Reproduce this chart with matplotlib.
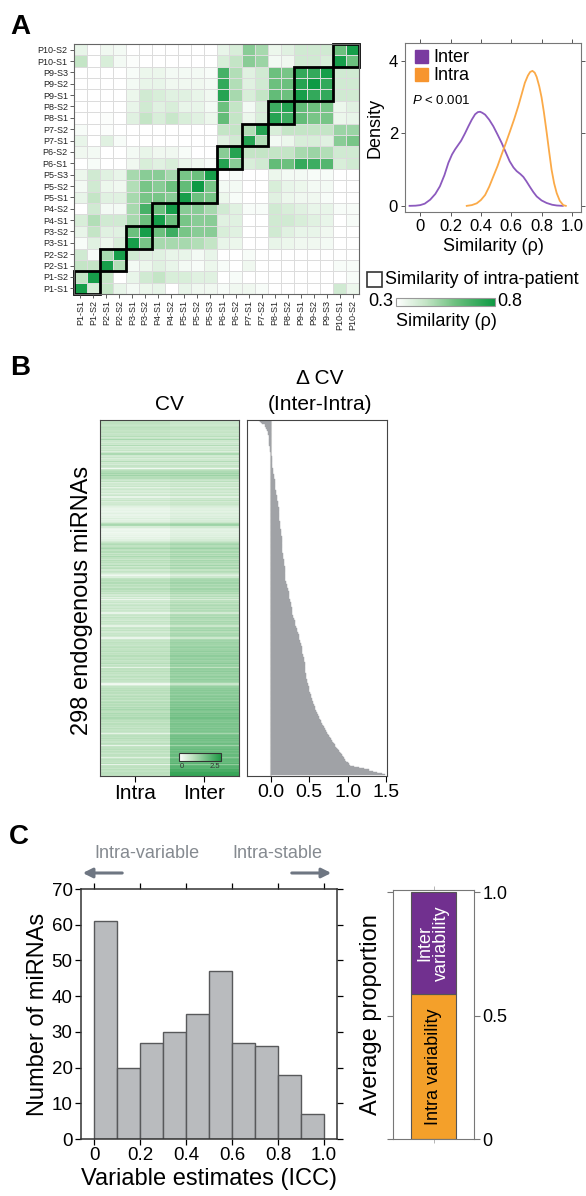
import numpy as np
import matplotlib
matplotlib.use('Agg')
import matplotlib.pyplot as plt
from matplotlib.colors import LinearSegmentedColormap, Normalize
from matplotlib.colorbar import ColorbarBase
from matplotlib.patches import Rectangle

plt.rcParams['font.family'] = ['Liberation Sans', 'DejaVu Sans']
plt.rcParams['mathtext.fontset'] = 'custom'
plt.rcParams['mathtext.it'] = 'Liberation Sans:italic'
plt.rcParams['mathtext.rm'] = 'Liberation Sans'

W, H = 586, 1196

# ---- panel A data ----
samples = ['P1-S1', 'P1-S2', 'P2-S1', 'P2-S2', 'P3-S1', 'P3-S2', 'P4-S1', 'P4-S2',
           'P5-S1', 'P5-S2', 'P5-S3', 'P6-S1', 'P6-S2', 'P7-S1', 'P7-S2', 'P8-S1',
           'P8-S2', 'P9-S1', 'P9-S2', 'P9-S3', 'P10-S1', 'P10-S2']
patient_sizes = [2, 2, 2, 2, 3, 2, 2, 2, 3, 2]

# similarity, rows as read from top (P10-S2) to bottom (P1-S1)
sim_rows = [
    [0.36, 0.30, 0.34, 0.33, 0.30, 0.30, 0.30, 0.30, 0.30, 0.30, 0.30, 0.36, 0.40, 0.55, 0.50, 0.35, 0.38, 0.42, 0.42, 0.42, 0.60, 0.78],
    [0.45, 0.30, 0.40, 0.33, 0.31, 0.30, 0.30, 0.30, 0.30, 0.30, 0.30, 0.40, 0.45, 0.55, 0.52, 0.33, 0.34, 0.42, 0.42, 0.40, 0.78, 0.60],
    [0.30, 0.30, 0.30, 0.30, 0.32, 0.35, 0.35, 0.33, 0.33, 0.33, 0.32, 0.68, 0.48, 0.38, 0.42, 0.60, 0.58, 0.72, 0.72, 0.78, 0.42, 0.42],
    [0.30, 0.30, 0.30, 0.30, 0.33, 0.36, 0.36, 0.34, 0.34, 0.34, 0.33, 0.72, 0.48, 0.38, 0.42, 0.60, 0.60, 0.75, 0.80, 0.72, 0.42, 0.42],
    [0.30, 0.30, 0.30, 0.30, 0.35, 0.42, 0.40, 0.38, 0.38, 0.36, 0.34, 0.75, 0.50, 0.40, 0.45, 0.62, 0.60, 0.78, 0.72, 0.72, 0.42, 0.42],
    [0.30, 0.30, 0.30, 0.30, 0.36, 0.42, 0.38, 0.40, 0.36, 0.36, 0.33, 0.60, 0.45, 0.33, 0.40, 0.70, 0.75, 0.62, 0.60, 0.58, 0.35, 0.38],
    [0.30, 0.30, 0.31, 0.30, 0.38, 0.45, 0.40, 0.44, 0.40, 0.38, 0.35, 0.62, 0.45, 0.35, 0.40, 0.75, 0.70, 0.62, 0.58, 0.58, 0.35, 0.36],
    [0.32, 0.30, 0.31, 0.30, 0.30, 0.30, 0.30, 0.30, 0.30, 0.30, 0.30, 0.45, 0.45, 0.48, 0.75, 0.40, 0.45, 0.45, 0.45, 0.45, 0.52, 0.52],
    [0.36, 0.30, 0.38, 0.32, 0.30, 0.30, 0.30, 0.30, 0.30, 0.30, 0.30, 0.38, 0.42, 0.75, 0.48, 0.33, 0.35, 0.40, 0.40, 0.38, 0.55, 0.58],
    [0.34, 0.33, 0.30, 0.30, 0.33, 0.36, 0.34, 0.34, 0.32, 0.30, 0.30, 0.55, 0.75, 0.45, 0.45, 0.45, 0.45, 0.50, 0.52, 0.48, 0.42, 0.42],
    [0.30, 0.32, 0.30, 0.30, 0.34, 0.40, 0.38, 0.40, 0.36, 0.34, 0.32, 0.75, 0.55, 0.40, 0.42, 0.62, 0.60, 0.72, 0.70, 0.65, 0.40, 0.42],
    [0.35, 0.42, 0.38, 0.36, 0.50, 0.55, 0.55, 0.50, 0.58, 0.60, 0.78, 0.30, 0.32, 0.30, 0.30, 0.35, 0.33, 0.33, 0.32, 0.32, 0.30, 0.30],
    [0.33, 0.42, 0.35, 0.34, 0.48, 0.58, 0.55, 0.60, 0.62, 0.80, 0.58, 0.33, 0.33, 0.30, 0.30, 0.40, 0.36, 0.35, 0.33, 0.33, 0.30, 0.30],
    [0.36, 0.45, 0.38, 0.38, 0.50, 0.58, 0.58, 0.55, 0.78, 0.60, 0.58, 0.35, 0.32, 0.30, 0.30, 0.38, 0.35, 0.34, 0.34, 0.32, 0.30, 0.30],
    [0.30, 0.42, 0.33, 0.33, 0.50, 0.68, 0.60, 0.78, 0.55, 0.55, 0.50, 0.42, 0.38, 0.32, 0.32, 0.42, 0.40, 0.38, 0.36, 0.36, 0.32, 0.32],
    [0.40, 0.48, 0.42, 0.42, 0.50, 0.60, 0.78, 0.60, 0.58, 0.55, 0.55, 0.38, 0.38, 0.30, 0.30, 0.42, 0.42, 0.40, 0.38, 0.36, 0.30, 0.32],
    [0.36, 0.45, 0.38, 0.38, 0.60, 0.78, 0.60, 0.70, 0.58, 0.55, 0.55, 0.40, 0.38, 0.30, 0.30, 0.42, 0.38, 0.36, 0.36, 0.34, 0.30, 0.30],
    [0.32, 0.38, 0.35, 0.40, 0.78, 0.58, 0.50, 0.50, 0.50, 0.48, 0.45, 0.36, 0.35, 0.30, 0.30, 0.36, 0.35, 0.34, 0.34, 0.33, 0.30, 0.30],
    [0.42, 0.32, 0.50, 0.78, 0.42, 0.38, 0.38, 0.36, 0.36, 0.33, 0.36, 0.30, 0.30, 0.32, 0.30, 0.30, 0.30, 0.30, 0.30, 0.30, 0.30, 0.30],
    [0.45, 0.45, 0.78, 0.48, 0.33, 0.35, 0.38, 0.36, 0.33, 0.32, 0.35, 0.32, 0.30, 0.34, 0.30, 0.30, 0.30, 0.30, 0.30, 0.30, 0.32, 0.32],
    [0.45, 0.78, 0.45, 0.30, 0.36, 0.42, 0.45, 0.40, 0.40, 0.38, 0.38, 0.30, 0.32, 0.30, 0.30, 0.30, 0.30, 0.30, 0.30, 0.30, 0.30, 0.32],
    [0.78, 0.40, 0.45, 0.36, 0.33, 0.35, 0.36, 0.30, 0.36, 0.34, 0.34, 0.32, 0.34, 0.34, 0.32, 0.30, 0.30, 0.30, 0.30, 0.30, 0.42, 0.35],
]

dens_inter_x = [-0.07, -0.03, 0.0, 0.03, 0.066, 0.1, 0.13, 0.16, 0.186, 0.21, 0.23, 0.25,
                0.27, 0.295, 0.318, 0.34, 0.362, 0.38, 0.395, 0.41, 0.428, 0.455, 0.482,
                0.51, 0.537, 0.565, 0.59, 0.615, 0.636, 0.66, 0.68, 0.70, 0.724, 0.746,
                0.768, 0.8, 0.833, 0.87, 0.9, 0.94]
dens_inter_y = [0.0, 0.005, 0.02, 0.06, 0.17, 0.33, 0.54, 0.85, 1.19, 1.42, 1.56, 1.68,
                1.8, 2.0, 2.2, 2.38, 2.53, 2.59, 2.6, 2.57, 2.52, 2.38, 2.2,
                1.97, 1.74, 1.47, 1.23, 1.06, 0.96, 0.88, 0.8, 0.68, 0.52, 0.38,
                0.26, 0.15, 0.08, 0.03, 0.01, 0.0]
dens_intra_x = [0.307, 0.34, 0.373, 0.40, 0.428, 0.455, 0.482, 0.51, 0.537, 0.565, 0.592,
                0.62, 0.647, 0.67, 0.69, 0.71, 0.725, 0.74, 0.755, 0.768, 0.785, 0.8,
                0.815, 0.833, 0.85, 0.866, 0.883, 0.9, 0.92, 0.943, 0.96]
dens_intra_y = [0.0, 0.02, 0.07, 0.16, 0.3, 0.53, 0.81, 1.1, 1.42, 1.74, 2.06,
                2.4, 2.76, 3.1, 3.4, 3.6, 3.7, 3.73, 3.68, 3.56, 3.3, 3.0,
                2.6, 2.05, 1.5, 1.0, 0.62, 0.35, 0.14, 0.02, 0.0]

# ---- panel B data (298 miRNAs, sorted by delta CV) ----
delta_cv = [
    -0.15, -0.14, -0.13, -0.11, -0.08, -0.07, -0.06, -0.06, -0.05, -0.05,
    -0.04, -0.04, -0.04, -0.03, -0.03, -0.03, -0.03, -0.02, -0.02, -0.02,
    -0.02, -0.02, -0.01, -0.01, -0.01, -0.01, -0.01, 0.00, 0.00, 0.00,
    0.00, 0.01, 0.01, 0.01, 0.01, 0.01, 0.02, 0.02, 0.02, 0.02,
    0.02, 0.03, 0.03, 0.03, 0.03, 0.03, 0.04, 0.04, 0.04, 0.04,
    0.05, 0.05, 0.05, 0.05, 0.06, 0.06, 0.06, 0.06, 0.06, 0.07,
    0.07, 0.07, 0.07, 0.08, 0.08, 0.08, 0.08, 0.08, 0.09, 0.09,
    0.09, 0.09, 0.09, 0.10, 0.10, 0.10, 0.10, 0.10, 0.10, 0.11,
    0.11, 0.11, 0.11, 0.11, 0.11, 0.12, 0.12, 0.12, 0.12, 0.12,
    0.12, 0.12, 0.13, 0.13, 0.13, 0.13, 0.13, 0.13, 0.14, 0.14,
    0.14, 0.14, 0.14, 0.14, 0.14, 0.14, 0.15, 0.15, 0.15, 0.15,
    0.15, 0.15, 0.16, 0.16, 0.16, 0.16, 0.16, 0.17, 0.17, 0.17,
    0.17, 0.17, 0.17, 0.18, 0.18, 0.18, 0.18, 0.18, 0.19, 0.19,
    0.19, 0.19, 0.19, 0.19, 0.19, 0.20, 0.20, 0.20, 0.21, 0.21,
    0.21, 0.22, 0.22, 0.22, 0.23, 0.23, 0.23, 0.24, 0.24, 0.24,
    0.25, 0.25, 0.25, 0.26, 0.26, 0.26, 0.26, 0.27, 0.27, 0.27,
    0.27, 0.27, 0.28, 0.28, 0.29, 0.29, 0.30, 0.30, 0.31, 0.31,
    0.32, 0.32, 0.32, 0.33, 0.33, 0.34, 0.34, 0.34, 0.35, 0.35,
    0.36, 0.36, 0.36, 0.37, 0.37, 0.38, 0.38, 0.39, 0.39, 0.39,
    0.40, 0.40, 0.40, 0.41, 0.41, 0.41, 0.42, 0.42, 0.42, 0.43,
    0.43, 0.43, 0.43, 0.44, 0.44, 0.44, 0.44, 0.45, 0.45, 0.45,
    0.45, 0.45, 0.46, 0.46, 0.46, 0.46, 0.46, 0.47, 0.47, 0.47,
    0.47, 0.48, 0.48, 0.49, 0.49, 0.50, 0.50, 0.50, 0.51, 0.51,
    0.52, 0.52, 0.52, 0.53, 0.53, 0.54, 0.55, 0.55, 0.56, 0.56,
    0.57, 0.57, 0.58, 0.59, 0.59, 0.60, 0.60, 0.61, 0.62, 0.62,
    0.63, 0.64, 0.65, 0.65, 0.66, 0.67, 0.68, 0.69, 0.70, 0.71,
    0.72, 0.72, 0.73, 0.74, 0.75, 0.76, 0.77, 0.78, 0.79, 0.80,
    0.81, 0.82, 0.83, 0.84, 0.85, 0.86, 0.87, 0.88, 0.90, 0.91,
    0.92, 0.93, 0.94, 0.95, 0.96, 0.97, 0.98, 1.00, 1.01, 1.03,
    1.08, 1.15, 1.21, 1.27, 1.33, 1.38, 1.44, 1.49,
]

intra_cv = [
    0.80, 0.78, 0.82, 0.75, 0.70, 0.78, 0.85, 0.80, 0.72, 0.76,
    0.80, 0.68, 0.74, 0.90, 0.60, 0.72, 1.05, 0.65, 0.55, 0.70,
    0.62, 0.95, 0.50, 0.66, 0.58, 0.72, 0.45, 0.68, 1.00, 0.60,
    0.55, 0.70, 0.48, 0.62, 0.92, 0.58, 0.66, 0.52, 0.74, 0.60,
    0.20, 0.70, 0.85, 0.95, 1.10, 0.90, 1.15, 0.88, 0.92, 0.70,
    0.60, 0.80, 0.45, 0.62, 0.55, 0.70, 0.35, 0.58, 0.66, 0.50,
    0.62, 0.40, 0.55, 0.68, 0.30, 0.60, 0.52, 0.72, 0.45, 0.58,
    0.62, 0.50, 0.40, 0.35, 0.28, 0.32, 0.25, 0.30, 0.38, 0.28,
    0.35, 0.30, 0.45, 0.32, 0.40, 0.55, 0.85, 1.05, 1.00, 0.50,
    0.30, 0.22, 0.25, 0.28, 0.20, 0.26, 0.30, 0.24, 0.35, 0.28,
    0.40, 0.55, 0.70, 0.85, 0.95, 0.78, 0.90, 1.05, 0.82, 0.75,
    0.92, 0.68, 0.88, 0.72, 1.00, 0.80, 0.65, 0.90, 0.76, 0.85,
    0.70, 0.95, 0.62, 0.80, 0.88, 0.58, 0.75, 0.66, 0.50, 0.35,
    0.20, 0.45, 0.78, 0.85, 0.90, 0.80, 0.95, 0.75, 0.88, 0.82,
    0.70, 0.92, 0.78, 0.85, 0.65, 0.80, 0.55, 0.70, 0.40, 0.62,
    0.25, 0.58, 0.70, 0.50, 0.66, 0.75, 0.60, 0.72, 0.55, 0.68,
    0.62, 0.30, 0.65, 0.72, 0.58, 0.80, 0.66, 0.55, 0.75, 0.62,
    0.70, 0.60, 0.35, 0.68, 0.74, 0.62, 0.78, 0.55, 0.70, 0.66,
    0.72, 0.58, 0.28, 0.65, 0.76, 0.70, 0.82, 0.75, 0.68, 0.80,
    0.85, 0.72, 0.78, 0.88, 0.70, 0.82, 0.76, 0.90, 0.74, 0.80,
    0.86, 0.70, 0.78, 0.92, 0.65, 0.80, 0.74, 0.35, 0.82, 0.76,
    0.88, 0.72, 0.80, 0.70, 0.85, 0.78, 0.66, 0.82, 0.74, 0.60,
    0.22, 0.18, 0.50, 0.75, 0.85, 0.80, 0.90, 0.78, 0.86, 0.72,
    0.82, 0.92, 0.76, 0.88, 0.70, 0.85, 0.95, 0.80, 0.90, 0.78,
    0.98, 0.85, 1.05, 0.90, 0.82, 1.00, 0.88, 0.95, 0.85, 1.02,
    0.90, 0.80, 0.85, 0.72, 0.88, 0.78, 0.82, 0.70, 0.86, 0.75,
    0.80, 0.68, 0.35, 0.72, 0.85, 0.78, 0.90, 0.75, 0.82, 0.70,
    0.86, 0.78, 0.30, 0.74, 0.80, 0.88, 0.72, 0.84, 0.78, 0.66,
    0.82, 0.76, 0.40, 0.70, 0.84, 0.78, 0.72, 0.88, 0.30, 0.76,
    0.82, 0.70, 0.86, 0.78, 0.74, 0.84, 0.80, 0.76,
]

# ---- panel C data ----
icc_edges = [0.0, 0.1, 0.2, 0.3, 0.4, 0.5, 0.6, 0.7, 0.8, 0.9, 1.0]
icc_counts = [61, 20, 27, 30, 35, 47, 27, 26, 18, 7]
prop_intra = 0.59
prop_inter = 0.41

purple = '#71308f'
orange = '#f4a02a'

fig = plt.figure(figsize=(W / 100, H / 100), dpi=100)


def add_ax(l, t, r, b):
    return fig.add_axes([l / W, 1 - b / H, (r - l) / W, (b - t) / H])


def fade_far_ticks(ax, color='#d0d0d0'):
    # ticks on top / right are drawn only faintly in the original
    for t in ax.xaxis.get_major_ticks():
        t.tick2line.set_color(color)
    for t in ax.yaxis.get_major_ticks():
        t.tick2line.set_color(color)


# ===== A: similarity heatmap =====
green_a = LinearSegmentedColormap.from_list(
    'ga', [(0, '#ffffff'), (0.3, '#c4e5c6'), (0.6, '#6cc07e'), (1, '#0e9a44')])
sim = np.array(sim_rows)[::-1]
n = len(samples)
ax = add_ax(74, 44, 359, 294)
ax.pcolormesh(np.arange(n + 1), np.arange(n + 1), sim, cmap=green_a, vmin=0.3, vmax=0.8,
              edgecolors='#dcdcdc', linewidth=0.5)
ax.set_xlim(0, n)
ax.set_ylim(0, n)
ax.set_xticks(np.arange(n) + 0.5)
ax.set_xticklabels(samples, rotation=90, fontsize=6.5, color='#222222')
ax.set_yticks(np.arange(n) + 0.5)
ax.set_yticklabels(samples, fontsize=6.5, color='#222222')
ax.tick_params(length=3, width=0.6, color='#444444', pad=1.5)
for s in ax.spines.values():
    s.set_color('#666666')
start = 0
for size in patient_sizes:
    ax.add_patch(Rectangle((start, start), size, size, fill=False, lw=2, ec='black', clip_on=False))
    start += size

# density
ax = add_ax(405, 43, 581, 212)
ax.plot(dens_inter_x, dens_inter_y, color='#8c5abe', lw=1.3)
ax.plot(dens_intra_x, dens_intra_y, color='#fbaa48', lw=1.3)
ax.set_xlim(-0.1, 1.06)
ax.set_ylim(-0.17, 4.5)
ax.set_xticks([0, 0.2, 0.4, 0.6, 0.8, 1.0])
ax.set_xticklabels(['0', '0.2', '0.4', '0.6', '0.8', '1.0'])
ax.set_yticks([0, 2, 4])
ax.tick_params(labelsize=12, length=3, width=0.7, color='#555555', pad=2)
ax.tick_params(top=True, right=True, labeltop=False, labelright=False)
fade_far_ticks(ax)
ax.set_xlabel('Similarity (ρ)', fontsize=13, labelpad=3)
ax.set_ylabel('Density', fontsize=13, labelpad=4)
for s in ax.spines.values():
    s.set_color('#777777')

# colorbar A
cax = add_ax(396, 298, 495, 306)
cb = ColorbarBase(cax, cmap=green_a, norm=Normalize(0.3, 0.8), orientation='horizontal')
cb.set_ticks([])
cb.outline.set_edgecolor('#999999')

# ===== B =====
green_b = LinearSegmentedColormap.from_list(
    'gb', [(0, '#ffffff'), (0.33, '#bde1bf'), (1, '#1f9a45')])
intra = np.array(intra_cv)
delta = np.array(delta_cv)
inter = intra + delta
cv = np.column_stack([intra, inter])
m = len(delta)
ax = add_ax(100, 420, 239, 776)
ax.pcolormesh(np.arange(3), np.arange(m + 1), cv, cmap=green_b, vmin=0, vmax=2.5)
ax.set_xlim(0, 2)
ax.set_ylim(m, 0)
ax.set_yticks([])
ax.set_xticks([0.5, 1.5])
ax.set_xticklabels(['Intra', 'Inter'], fontsize=15)
ax.tick_params(length=4, width=0.8, pad=2)
for s in ax.spines.values():
    s.set_color('#444444')

cax = add_ax(179, 753, 221, 761)
cb = ColorbarBase(cax, cmap=green_b, norm=Normalize(0, 2.5), orientation='horizontal')
cb.set_ticks([])
cb.outline.set_edgecolor('#333333')

ax = add_ax(247, 420, 387, 776)
ax.axvline(0, color='#d4d4d4', lw=1.5, zorder=0)
ax.barh(np.arange(m), delta, height=1.0, color='#a0a2a6', edgecolor='#a0a2a6', linewidth=0.3)
ax.set_ylim(m, 0)
ax.set_xlim(-0.31, 1.51)
ax.set_yticks([])
ax.set_xticks([0, 0.5, 1.0, 1.5])
ax.set_xticklabels(['0.0', '0.5', '1.0', '1.5'], fontsize=14)
ax.tick_params(length=4, width=0.8, pad=2)
for s in ax.spines.values():
    s.set_color('#444444')

# ===== C =====
ax = add_ax(81, 889, 337, 1139)
ax.bar(icc_edges[:-1], icc_counts, width=0.1, align='edge', color='#b9bbbe',
       edgecolor='#58595b', linewidth=1)
ax.set_xlim(-0.057, 1.057)
ax.set_ylim(0, 70)
ax.set_xticks([0, 0.2, 0.4, 0.6, 0.8, 1.0])
ax.set_xticklabels(['0', '0.2', '0.4', '0.6', '0.8', '1.0'])
ax.set_yticks(range(0, 71, 10))
ax.tick_params(labelsize=13.5, length=4, width=0.9, pad=2, top=True)
ax.tick_params(axis='y', right=True, labelright=False)
for t in ax.yaxis.get_major_ticks():
    t.tick2line.set_color('#d0d0d0')
ax.set_xlabel('Variable estimates (ICC)', fontsize=17, labelpad=3)
ax.set_ylabel('Number of miRNAs', fontsize=17, labelpad=2)
for s in ax.spines.values():
    s.set_color('#333333')
    s.set_linewidth(1.1)

ax = add_ax(393, 890, 474, 1139)
ax.bar(0, prop_intra, width=1.1, color=orange, edgecolor='#555555', linewidth=0.8)
ax.bar(0, prop_inter, bottom=prop_intra, width=1.1, color=purple, edgecolor='#555555', linewidth=0.8)
ax.text(0, prop_intra + prop_inter / 2, 'Inter\nvariability', rotation=90, color='white',
        fontsize=13, ha='center', va='center', linespacing=0.95)
ax.text(0, prop_intra / 2, 'Intra variability', rotation=90, color='black',
        fontsize=13, ha='center', va='center')
ax.set_xlim(-1, 1)
ax.set_ylim(0, 1.01)
ax.set_xticks([0])
ax.set_xticklabels([''])
ax.set_yticks([0, 0.5, 1.0])
ax.set_yticklabels(['0', '0.5', '1.0'])
ax.tick_params(axis='y', left=True, right=True, labelleft=False, labelright=True,
               labelsize=13, length=4, width=0.8, color='#777777', pad=2)
ax.tick_params(axis='x', top=True, length=3, width=0.6, color='#aaaaaa')
ax.set_ylabel('Average proportion', fontsize=17, labelpad=4)
ax.yaxis.set_label_position('left')
for s in ax.spines.values():
    s.set_color('#777777')

# ===== overlay: panel letters, legends, annotations =====
ov = fig.add_axes([0, 0, 1, 1])
ov.set_xlim(0, W)
ov.set_ylim(H, 0)
ov.axis('off')
for letter, (x, y) in zip('ABC', [(20, 27), (20, 368), (19, 837)]):
    ov.text(x, y, letter, fontsize=20, fontweight='bold', ha='center', va='center')

ov.add_patch(Rectangle((415, 50), 13, 13, color='#7a3aa0'))
ov.text(433, 57, 'Inter', fontsize=13, va='center')
ov.add_patch(Rectangle((415, 68), 13, 13, color='#f7952f'))
ov.text(433, 75, 'Intra', fontsize=13, va='center')
ov.text(412, 100, '$P$ < 0.001', fontsize=9.5, va='center')

ov.add_patch(Rectangle((367, 272), 15, 15, fill=False, ec='#333333', lw=1.2))
ov.text(385, 280, 'Similarity of intra-patient', fontsize=13, va='center')
ov.text(393, 302, '0.3', fontsize=13, va='center', ha='right')
ov.text(497, 302, '0.8', fontsize=13, va='center', ha='left')
ov.text(446, 321, 'Similarity (ρ)', fontsize=13, va='center', ha='center')

ov.text(169, 404, 'CV', fontsize=15, ha='center', va='center')
ov.text(320, 378, 'Δ CV', fontsize=15, ha='center', va='center')
ov.text(320, 405, '(Inter-Intra)', fontsize=15, ha='center', va='center')
ov.text(82, 600, '298 endogenous miRNAs', fontsize=17, rotation=90, ha='center', va='center')
ov.text(182, 767, '0', fontsize=5.5, ha='center', va='center', color='#333333')
ov.text(215, 767, '2.5', fontsize=5.5, ha='center', va='center', color='#333333')

ov.text(147, 854, 'Intra-variable', fontsize=13, color='#858a90', ha='center', va='center')
ov.text(277, 854, 'Intra-stable', fontsize=13, color='#858a90', ha='center', va='center')
arrow = dict(arrowstyle='-|>', lw=2.2, color='#6e7682', mutation_scale=14)
ov.annotate('', xy=(80, 873), xytext=(125, 873), arrowprops=arrow)
ov.annotate('', xy=(334, 873), xytext=(289, 873), arrowprops=arrow)

fig.savefig('out.png', dpi=100)
